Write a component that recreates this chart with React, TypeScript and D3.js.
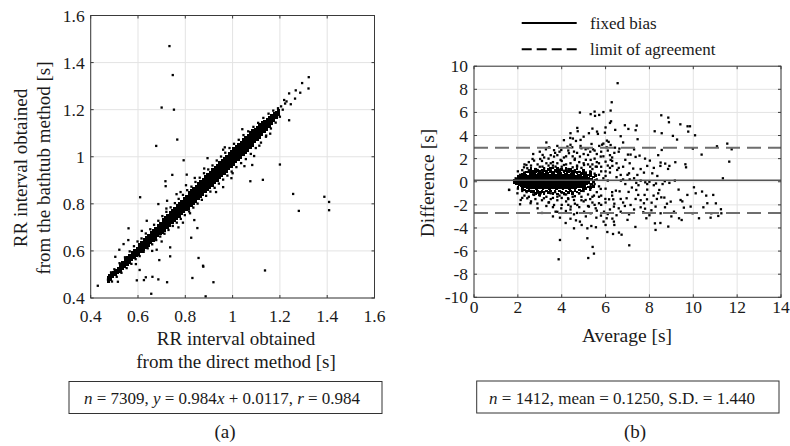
import React from 'react';
import * as d3 from 'd3';

// ---------- axis ticks ----------
const leftTicks = [0.4, 0.6, 0.8, 1.0, 1.2, 1.4, 1.6];
const leftTickLabels = ['0.4', '0.6', '0.8', '1', '1.2', '1.4', '1.6'];
const baXTicks = [0, 2, 4, 6, 8, 10, 12, 14];
const baYTicks = [-10, -8, -6, -4, -2, 0, 2, 4, 6, 8, 10];

// ---------- Bland-Altman statistics ----------
const baMean = 0.125;
const baLimits = [2.947, -2.697];

// ---------- (a) dense band: [x, y1, y2, ...] ----------
const bandCols = [
  [0.475, 0.471, 0.480, 0.489], [0.485, 0.479, 0.490, 0.499], [0.495, 0.489, 0.499, 0.509],
  [0.505, 0.497, 0.508, 0.518], [0.515, 0.506, 0.517, 0.528],
  [0.525, 0.512, 0.522, 0.533, 0.543], [0.535, 0.523, 0.533, 0.543, 0.553],
  [0.545, 0.532, 0.542, 0.553, 0.563], [0.555, 0.541, 0.552, 0.563, 0.573],
  [0.565, 0.551, 0.561, 0.572, 0.583], [0.575, 0.561, 0.571, 0.582, 0.593],
  [0.585, 0.571, 0.581, 0.592, 0.603], [0.595, 0.580, 0.591, 0.602, 0.613],
  [0.605, 0.585, 0.596, 0.607, 0.618, 0.628], [0.615, 0.595, 0.606, 0.617, 0.628, 0.638],
  [0.625, 0.605, 0.616, 0.627, 0.638, 0.648], [0.635, 0.615, 0.626, 0.637, 0.648, 0.658],
  [0.645, 0.624, 0.635, 0.646, 0.657, 0.667], [0.655, 0.634, 0.645, 0.656, 0.667, 0.677],
  [0.665, 0.644, 0.655, 0.666, 0.677, 0.687], [0.675, 0.654, 0.665, 0.676, 0.687, 0.697],
  [0.685, 0.664, 0.675, 0.686, 0.697, 0.707], [0.695, 0.674, 0.685, 0.696, 0.707, 0.717],
  [0.705, 0.678, 0.689, 0.700, 0.711, 0.722, 0.733], [0.715, 0.688, 0.699, 0.710, 0.721, 0.732, 0.743],
  [0.725, 0.698, 0.709, 0.720, 0.731, 0.742, 0.753], [0.735, 0.708, 0.719, 0.730, 0.741, 0.752, 0.763],
  [0.745, 0.718, 0.729, 0.740, 0.751, 0.762, 0.773], [0.755, 0.728, 0.739, 0.750, 0.761, 0.772, 0.783],
  [0.765, 0.738, 0.749, 0.760, 0.771, 0.782, 0.793], [0.775, 0.747, 0.758, 0.769, 0.780, 0.791, 0.802],
  [0.785, 0.757, 0.768, 0.779, 0.790, 0.801, 0.812], [0.795, 0.767, 0.778, 0.789, 0.800, 0.811, 0.822],
  [0.805, 0.777, 0.788, 0.799, 0.810, 0.821, 0.832],
  [0.815, 0.781, 0.792, 0.803, 0.814, 0.825, 0.836, 0.847], [0.825, 0.791, 0.802, 0.813, 0.824, 0.835, 0.846, 0.857],
  [0.835, 0.800, 0.811, 0.822, 0.833, 0.844, 0.855, 0.866], [0.845, 0.810, 0.821, 0.832, 0.843, 0.854, 0.865, 0.876],
  [0.855, 0.820, 0.831, 0.842, 0.853, 0.864, 0.875, 0.886], [0.865, 0.830, 0.841, 0.852, 0.863, 0.874, 0.885, 0.896],
  [0.875, 0.840, 0.851, 0.862, 0.873, 0.884, 0.895, 0.906], [0.885, 0.850, 0.861, 0.872, 0.883, 0.894, 0.905, 0.916],
  [0.895, 0.859, 0.870, 0.881, 0.892, 0.903, 0.914, 0.925], [0.905, 0.869, 0.880, 0.891, 0.902, 0.913, 0.924, 0.935],
  [0.915, 0.879, 0.890, 0.901, 0.912, 0.923, 0.934, 0.945], [0.925, 0.889, 0.900, 0.911, 0.922, 0.933, 0.944, 0.955],
  [0.935, 0.899, 0.910, 0.921, 0.932, 0.943, 0.954, 0.965], [0.945, 0.909, 0.920, 0.931, 0.942, 0.953, 0.964, 0.975],
  [0.955, 0.918, 0.929, 0.940, 0.951, 0.962, 0.973, 0.984], [0.965, 0.928, 0.939, 0.950, 0.961, 0.972, 0.983, 0.994],
  [0.975, 0.938, 0.949, 0.960, 0.971, 0.982, 0.993, 1.004], [0.985, 0.948, 0.959, 0.970, 0.981, 0.992, 1.003, 1.014],
  [0.995, 0.958, 0.969, 0.980, 0.991, 1.002, 1.013, 1.024], [1.005, 0.968, 0.979, 0.990, 1.001, 1.012, 1.023, 1.034],
  [1.015, 0.977, 0.988, 0.999, 1.010, 1.021, 1.032, 1.043], [1.025, 0.987, 0.998, 1.009, 1.020, 1.031, 1.042, 1.053],
  [1.035, 0.997, 1.008, 1.019, 1.030, 1.041, 1.052, 1.063], [1.045, 1.007, 1.018, 1.029, 1.040, 1.051, 1.062, 1.073],
  [1.055, 1.017, 1.028, 1.039, 1.050, 1.061, 1.072, 1.083], [1.065, 1.027, 1.038, 1.049, 1.060, 1.071, 1.082, 1.093],
  [1.075, 1.037, 1.048, 1.059, 1.070, 1.081, 1.092, 1.103], [1.085, 1.046, 1.057, 1.068, 1.079, 1.090, 1.101, 1.112],
  [1.095, 1.062, 1.073, 1.084, 1.095, 1.106, 1.117], [1.105, 1.072, 1.083, 1.094, 1.105, 1.116, 1.127],
  [1.115, 1.082, 1.093, 1.104, 1.115, 1.126, 1.137], [1.125, 1.092, 1.103, 1.114, 1.125, 1.136, 1.147],
  [1.135, 1.107, 1.118, 1.129, 1.140, 1.150], [1.145, 1.116, 1.127, 1.138, 1.149, 1.159],
  [1.155, 1.126, 1.137, 1.148, 1.159, 1.169],
  [1.165, 1.142, 1.153, 1.164, 1.174], [1.175, 1.152, 1.163, 1.174, 1.184],
  [1.185, 1.168, 1.178, 1.188], [1.195, 1.178, 1.188, 1.198],
];

// ---------- (a) points scattered round the band ----------
const nearBand = [
  [0.478, 0.497], [0.49, 0.47], [0.5, 0.522], [0.51, 0.49], [0.522, 0.548], [0.53, 0.507], [0.545, 0.573],
  [0.552, 0.527], [0.565, 0.598], [0.572, 0.545], [0.583, 0.62], [0.59, 0.565], [0.598, 0.64], [0.607, 0.578],
  [0.615, 0.653], [0.624, 0.596], [0.633, 0.674], [0.641, 0.611], [0.652, 0.692], [0.66, 0.628], [0.668, 0.711],
  [0.677, 0.646], [0.686, 0.728], [0.694, 0.661], [0.703, 0.748], [0.712, 0.673], [0.72, 0.766], [0.729, 0.689],
  [0.738, 0.785], [0.747, 0.706], [0.756, 0.803], [0.764, 0.72], [0.772, 0.821], [0.781, 0.736], [0.79, 0.838],
  [0.798, 0.752], [0.808, 0.858], [0.816, 0.768], [0.826, 0.873], [0.834, 0.784], [0.843, 0.893], [0.852, 0.801],
  [0.861, 0.911], [0.87, 0.817], [0.879, 0.93], [0.888, 0.834], [0.897, 0.946], [0.906, 0.852], [0.915, 0.963],
  [0.924, 0.868], [0.933, 0.984], [0.942, 0.886], [0.951, 1.001], [0.96, 0.903], [0.969, 1.017], [0.978, 0.92],
  [0.987, 1.037], [0.996, 0.937], [1.006, 1.055], [1.016, 0.956], [1.026, 1.072], [1.036, 0.973], [1.046, 1.092],
  [1.056, 0.99], [1.066, 1.108], [1.077, 1.012], [1.088, 1.127], [1.098, 1.037], [1.108, 1.144], [1.12, 1.06],
  [1.13, 1.165], [1.142, 1.09], [1.152, 1.183], [1.162, 1.12], [1.172, 1.196], [1.182, 1.145], [1.192, 1.206],
  [1.2, 1.17], [1.205, 1.214], [1.212, 1.2], [1.222, 1.226],
];

// ---------- (a) outliers ----------
const leftOutliers = [
  [0.733, 1.47], [0.747, 1.347], [0.70, 1.209], [0.752, 1.20], [0.766, 1.073], [0.677, 1.046], [0.793, 0.985],
  [0.894, 0.994], [1.20, 0.967], [1.322, 1.338], [1.294, 1.313], [1.321, 1.29], [1.267, 1.282], [1.286, 1.272],
  [1.239, 1.269], [1.264, 1.247], [1.246, 1.223], [1.239, 1.155], [1.218, 1.241], [1.228, 1.235], [1.041, 1.117],
  [1.091, 1.003], [1.141, 1.085], [1.113, 1.047], [1.159, 1.098], [1.083, 0.965], [0.967, 1.04], [1.075, 0.896],
  [1.128, 0.902], [1.256, 0.842], [1.28, 0.77], [1.388, 0.83], [1.408, 0.808], [1.408, 0.773], [1.137, 0.517],
  [0.919, 0.467], [0.875, 0.537], [0.856, 0.57], [0.83, 0.485], [0.886, 0.407], [0.723, 0.467], [0.656, 0.418],
  [0.595, 0.475], [0.43, 0.452], [0.609, 0.828], [0.56, 0.696], [0.745, 0.923], [0.806, 0.924], [0.716, 0.896],
  [0.717, 0.875], [0.803, 0.879], [0.96, 0.871], [0.995, 0.909], [0.838, 0.731], [0.851, 0.697], [0.825, 0.656],
  [0.736, 0.615], [0.736, 0.577], [0.69, 0.561], [0.633, 0.488], [0.661, 0.49], [0.591, 0.544], [0.504, 0.575],
  [0.521, 0.605], [0.539, 0.629], [0.486, 0.509], [0.515, 0.469], [0.473, 0.478], [0.616, 0.685], [0.686, 0.799],
  [0.723, 0.813], [0.763, 0.841], [0.637, 0.728], [0.679, 0.605], [0.607, 0.519], [0.686, 0.479], [0.625, 0.476],
  [0.559, 0.646], [0.876, 0.533], [0.771, 0.70], [0.79, 0.72], [0.82, 0.76], [0.7, 0.64], [0.66, 0.6],
  [0.93, 0.85], [1.0, 0.93], [1.05, 0.96], [0.88, 0.95], [0.84, 0.91], [0.78, 0.85], [0.72, 0.78], [0.96, 1.03],
];

// ---------- (b) dense core: [average, difference1, difference2, ...] ----------
const coreCols = [
  [1.85, -0.05, 0.15], [1.95, -0.15, 0.05, 0.25], [2.05, -0.25, -0.05, 0.15, 0.35],
  [2.15, -0.3, -0.1, 0.1, 0.3, 0.5], [2.25, -0.4, -0.2, 0.0, 0.2, 0.4],
  [2.35, -0.45, -0.25, -0.05, 0.15, 0.35, 0.55], [2.45, -0.5, -0.3, -0.1, 0.1, 0.3, 0.5],
  [2.55, -0.5, -0.3, -0.1, 0.1, 0.3, 0.5, 0.7], [2.65, -0.55, -0.35, -0.15, 0.05, 0.25, 0.45, 0.65],
  [2.75, -0.5, -0.3, -0.1, 0.1, 0.3, 0.5, 0.7], [2.85, -0.6, -0.4, -0.2, 0.0, 0.2, 0.4, 0.6],
  [2.95, -0.55, -0.35, -0.15, 0.05, 0.25, 0.45, 0.65], [3.05, -0.5, -0.3, -0.1, 0.1, 0.3, 0.5, 0.7],
  [3.15, -0.6, -0.4, -0.2, 0.0, 0.2, 0.4, 0.6, 0.8], [3.25, -0.55, -0.35, -0.15, 0.05, 0.25, 0.45, 0.65],
  [3.35, -0.5, -0.3, -0.1, 0.1, 0.3, 0.5, 0.7], [3.45, -0.6, -0.4, -0.2, 0.0, 0.2, 0.4, 0.6],
  [3.55, -0.55, -0.35, -0.15, 0.05, 0.25, 0.45, 0.65], [3.65, -0.5, -0.3, -0.1, 0.1, 0.3, 0.5, 0.7],
  [3.75, -0.6, -0.4, -0.2, 0.0, 0.2, 0.4, 0.6], [3.85, -0.55, -0.35, -0.15, 0.05, 0.25, 0.45, 0.65],
  [3.95, -0.5, -0.3, -0.1, 0.1, 0.3, 0.5, 0.7], [4.05, -0.6, -0.4, -0.2, 0.0, 0.2, 0.4, 0.6],
  [4.15, -0.55, -0.35, -0.15, 0.05, 0.25, 0.45, 0.65], [4.25, -0.5, -0.3, -0.1, 0.1, 0.3, 0.5, 0.7],
  [4.35, -0.6, -0.4, -0.2, 0.0, 0.2, 0.4, 0.6], [4.45, -0.55, -0.35, -0.15, 0.05, 0.25, 0.45, 0.65],
  [4.55, -0.5, -0.3, -0.1, 0.1, 0.3, 0.5, 0.7], [4.65, -0.5, -0.3, -0.1, 0.1, 0.3, 0.5],
  [4.75, -0.45, -0.25, -0.05, 0.15, 0.35, 0.55], [4.85, -0.4, -0.2, 0.0, 0.2, 0.4, 0.6],
  [4.95, -0.4, -0.2, 0.0, 0.2, 0.4], [5.05, -0.3, -0.1, 0.1, 0.3, 0.5], [5.15, -0.2, 0.0, 0.2, 0.4],
  [5.25, -0.1, 0.1, 0.3],
];

// ---------- (b) ragged fringe of the core ----------
const coreFringe = [
  [2.0, -0.45, 0.45], [2.2, -0.6, 0.65], [2.3, 0.75, -0.7], [2.4, -0.8, 0.85], [2.5, 0.9, -0.75],
  [2.6, -0.9, 0.95, 1.15], [2.7, -0.85, 0.9], [2.8, -1.0, 0.85, 1.05], [2.9, -0.8, 1.0], [3.0, -0.9, 0.9, -1.1],
  [3.1, 1.0, -0.85], [3.2, -1.0, 0.95, 1.2], [3.3, -0.8, 0.9], [3.4, -0.95, 1.05], [3.5, -0.8, 0.9, 1.2],
  [3.6, -1.0, 0.85], [3.7, -0.85, 1.0], [3.8, -1.05, 0.9, 1.15], [3.9, -0.8, 0.95], [4.0, -0.9, 1.05],
  [4.1, -1.0, 0.85], [4.2, -0.8, 0.95, 1.2], [4.3, -0.95, 0.9], [4.4, -0.8, 1.05], [4.5, -1.0, 0.9],
  [4.6, -0.75, 0.85], [4.7, -0.9, 0.8, 1.1], [4.8, -0.7, 0.85], [4.9, -0.8, 0.75], [5.0, -0.6, 0.7, 0.95],
  [5.1, -0.6, 0.65], [5.2, -0.45, 0.6], [5.3, -0.5, 0.55, 0.8], [5.35, -0.2, 0.2], [5.45, 0.0, 0.4, -0.4],
  [5.55, 0.15, 0.55],
];

// ---------- (b) scattered points [average, difference] ----------
const baScatter = [
  [6.55, 8.53], [6.28, 6.88], [6.23, 6.16], [4.83, 5.99], [5.32, 5.85], [5.50, 6.07], [5.52, 5.70], [5.90, 6.03],
  [5.71, 5.78], [6.20, 5.09], [6.25, 5.23], [8.54, 5.75], [8.86, 5.55], [8.89, 5.15], [9.41, 4.97], [9.74, 4.80],
  [9.85, 4.80], [9.77, 4.34], [10.08, 4.02], [9.07, 3.97], [9.26, 3.65], [8.24, 4.37], [8.56, 4.20], [6.88, 4.89],
  [7.04, 4.57], [7.42, 4.86], [7.37, 4.46], [7.46, 3.68], [6.69, 3.94], [6.44, 4.49], [5.24, 4.20], [4.71, 4.66],
  [4.73, 4.37], [5.61, 4.34], [5.65, 4.14], [5.97, 4.25], [6.06, 3.56], [6.14, 3.45], [4.39, 3.79], [4.51, 3.74],
  [4.65, 3.53], [4.86, 3.62], [5.36, 3.27], [5.43, 2.81], [5.84, 3.21], [5.71, 3.10], [6.23, 3.18], [6.05, 2.98],
  [6.43, 2.95], [6.63, 2.87], [8.56, 2.75], [9.98, 2.87], [10.38, 2.35], [11.08, 3.07], [11.55, 3.30], [11.75, 2.81],
  [11.64, 1.74], [11.35, 0.30], [7.02, 2.35], [7.14, 2.35], [7.37, 2.15], [7.55, 2.26], [8.02, 1.83], [8.50, 1.37],
  [8.51, 1.66], [8.72, 1.57], [8.91, 1.37], [8.85, 1.11], [9.18, 1.69], [9.64, 1.51], [9.67, 1.25], [7.90, 1.37],
  [7.75, 0.79], [7.26, 1.14], [3.28, 2.81], [3.65, 2.73], [3.42, 2.98], [3.13, 2.32], [3.02, 1.97], [2.67, 1.97],
  [2.74, 1.83], [2.39, 1.45], [2.28, 1.25], [2.43, 1.17], [3.98, 2.75], [4.26, 3.04], [4.48, 2.98], [4.56, 2.61],
  [4.33, 2.47], [4.86, 3.10], [5.09, 2.81], [5.20, 2.32], [4.83, 2.18], [4.59, 1.89], [3.95, 1.89], [3.65, 2.18],
  [3.50, 1.60], [4.10, 1.45], [5.32, 1.89], [5.78, 2.18], [6.00, 1.74], [6.23, 1.89], [6.31, 1.37], [6.53, 1.02],
  [5.55, 1.31], [5.02, 1.45], [3.72, 1.31], [3.12, 1.31], [2.89, 1.02], [6.69, 0.59], [7.07, 0.73], [7.45, 0.59],
  [8.13, 0.73], [8.36, 0.50], [1.90, 0.30],
  [3.92, -5.04], [3.86, -6.71], [5.17, -4.89], [5.41, -5.64], [5.47, -6.22], [5.21, -6.60], [7.08, -5.50],
  [6.08, -4.35], [6.34, -4.52], [6.61, -4.40], [6.73, -4.58], [8.28, -4.17], [8.86, -3.88], [8.25, -3.60],
  [8.50, -3.57], [7.36, -3.91], [4.18, -3.57], [4.65, -3.34], [4.83, -3.45], [4.91, -3.74], [5.35, -3.83],
  [5.56, -3.94], [5.58, -3.11], [5.79, -2.93], [6.05, -3.16], [6.31, -3.19], [6.38, -3.45], [6.40, -3.74],
  [5.91, -3.45], [7.60, -2.21], [7.72, -2.64], [8.09, -2.47], [7.86, -3.16], [8.71, -2.21], [9.35, -3.16],
  [9.47, -3.31], [9.57, -2.24], [9.97, -2.73], [10.26, -3.16], [10.46, -2.21], [10.79, -3.11], [10.91, -1.14],
  [11.03, -1.87], [11.14, -2.96], [11.26, -2.38], [11.28, -2.73], [9.33, -0.68], [9.42, -1.58], [10.03, -0.48],
  [10.11, -1.00], [10.40, -0.85], [10.59, -1.20], [9.16, 0.10], [8.91, -0.10], [8.45, -0.71], [8.19, -1.20],
  [8.34, -1.49], [8.54, -1.35], [8.68, -1.37], [7.81, -0.05], [7.90, -0.68], [7.40, -0.71], [7.49, -1.14],
  [7.37, -1.49], [7.78, -1.14], [7.89, -1.52], [7.75, -1.86], [8.10, -1.81], [7.80, -2.33], [6.47, -0.77],
  [6.35, -1.52], [6.64, -0.83], [6.69, -1.49], [6.96, -1.43], [7.05, -0.88], [6.88, -2.10], [6.16, -1.52],
  [5.99, -1.49], [5.78, -0.62], [5.32, -0.28], [4.19, -2.53], [3.92, -3.11], [3.98, -2.30], [3.65, -2.01],
  [3.42, -1.78], [3.19, -1.43], [2.89, -1.89], [2.58, -1.86], [2.43, -1.43], [2.10, -1.95], [2.13, -1.58],
  [1.60, -0.71], [1.98, -1.00], [4.71, -2.01], [5.02, -2.59], [4.56, -2.82], [5.32, -2.73], [5.55, -2.30],
  [5.93, -2.59], [6.69, -2.59], [7.07, -2.82], [7.14, -2.01], [6.00, -3.74], [5.17, -4.03], [4.56, -4.03],
  [4.41, -2.15], [3.72, -2.59], [4.29, -1.43], [4.56, -1.58], [5.09, -1.58], [5.47, -1.20], [4.79, -1.00],
  [4.13, -1.09], [3.80, -1.29], [3.04, -1.00], [2.74, -1.14], [5.24, -2.15], [5.70, -1.86], [6.38, -2.15],
  [8.51, -2.73], [8.28, -2.15], [8.97, -1.72], [9.12, -2.59], [9.73, -1.14], [9.88, -2.15], [10.64, -1.86],
  [10.82, -2.73],
  [2.1, 0.6], [2.3, 0.8], [2.5, 1.0], [2.6, 0.85], [2.8, 1.1], [2.9, 0.9], [3.0, 1.3], [3.1, 0.95], [3.2, 1.15],
  [3.3, 0.85], [3.4, 1.4], [3.5, 1.0], [3.6, 1.2], [3.7, 0.9], [3.8, 1.6], [3.9, 1.05], [4.0, 1.3], [4.1, 0.95],
  [4.2, 1.5], [4.3, 1.1], [4.4, 0.9], [4.5, 1.25], [4.6, 1.0], [4.7, 1.4], [4.8, 0.85], [4.9, 1.2], [5.0, 1.0],
  [5.1, 0.8], [5.2, 1.5], [5.3, 0.9], [5.4, 1.1], [5.5, 0.7], [5.6, 1.3], [5.7, 0.6], [5.8, 0.9], [6.0, 0.5],
  [6.2, 0.8], [5.9, 0.3], [5.6, 0.2], [5.5, -0.2], [5.7, -0.4], [6.1, 0.1],
  [1.6, -0.7], [2.0, -0.6], [2.2, -0.8], [2.4, -0.9], [2.6, -0.8], [2.7, -1.1], [2.9, -0.95], [3.0, -1.2],
  [3.2, -0.9], [3.3, -1.3], [3.5, -1.0], [3.6, -1.4], [3.7, -0.9], [3.9, -1.2], [4.0, -0.95], [4.2, -1.1],
  [4.3, -1.5], [4.5, -0.9], [4.6, -1.25], [4.8, -1.0], [4.9, -1.6], [5.0, -0.8], [5.2, -1.1], [5.3, -0.7],
  [5.4, -1.3], [5.6, -0.9], [5.8, -1.2], [6.0, -0.6], [6.3, -0.9],
  [5.5, 2.0], [5.7, 1.6], [5.9, 2.2], [6.1, 1.4], [6.3, 1.8], [6.4, 2.5], [6.2, 2.3], [5.8, 2.6], [6.0, 0.9],
  [6.5, 0.4], [6.6, 1.2], [6.8, 0.2], [7.0, 0.6], [6.9, -0.2], [7.2, -0.5], [7.3, 0.3], [7.6, 0.1], [7.5, -0.3],
  [8.0, 0.0], [8.2, -0.3], [6.7, 0.1], [7.1, 0.2], [7.4, -0.1], [7.9, -0.2], [8.3, -0.15], [8.6, -0.2], [8.7, 0.05],
  [3.4, 2.0], [3.6, 1.7], [3.8, 2.3], [4.0, 1.8], [4.2, 2.2], [4.4, 1.6], [4.6, 2.0], [4.8, 1.7], [5.0, 2.4],
  [5.1, 1.9], [5.3, 2.6], [5.4, 1.5], [5.6, 2.4], [4.3, 2.7], [4.7, 2.5], [3.7, 2.5], [3.3, 1.6], [3.1, 1.8],
  [2.9, 1.5], [2.6, 1.4], [2.5, 1.7], [2.2, 1.0], [2.0, 0.9],
  [3.4, -1.8], [3.6, -2.2], [3.8, -1.6], [4.0, -2.0], [4.2, -1.7], [4.4, -2.4], [4.6, -1.9], [4.8, -2.2],
  [5.0, -1.7], [5.2, -2.1], [5.4, -1.8], [5.6, -2.5], [5.8, -2.0], [6.0, -1.8], [6.2, -2.4], [6.4, -1.9],
  [6.6, -2.3], [3.1, -1.6], [2.8, -1.5], [2.5, -1.3], [2.3, -1.2],
  [2.3, 1.5], [2.7, 2.4], [3.0, 2.6], [3.2, 2.1], [3.5, 2.3], [3.6, 1.4], [3.9, 2.6], [4.1, 2.1], [4.4, 3.2],
  [4.5, 2.2], [4.7, 1.3], [4.9, 2.9], [5.0, 1.6], [5.2, 2.9], [5.3, 1.3], [5.5, 2.7], [5.6, 1.7], [5.8, 1.3],
  [5.9, 3.3], [6.1, 2.7], [6.2, 1.2], [6.3, 2.1], [6.5, 1.6], [6.6, 2.6], [6.8, 1.3], [6.9, 1.9], [7.1, 1.6],
  [7.3, 2.8], [7.6, 1.1], [7.8, 2.0], [8.2, 1.2], [8.4, 2.3], [3.3, 3.4], [3.8, 3.1], [4.1, 3.6], [5.0, 3.9],
  [5.4, 4.6], [4.4, 4.2], [6.0, 4.7], [6.8, 3.4],
  [2.2, -1.4], [2.6, -1.7], [2.9, -2.3], [3.1, -2.7], [3.3, -2.1], [3.5, -1.5], [3.8, -2.6], [4.0, -1.4],
  [4.3, -2.0], [4.5, -1.3], [4.7, -2.7], [4.9, -1.3], [5.1, -3.0], [5.3, -1.5], [5.5, -2.0], [5.7, -1.3],
  [6.1, -2.8], [6.3, -1.2], [6.5, -2.9], [6.8, -1.8], [7.0, -3.3], [7.3, -2.4], [7.6, -1.6], [8.0, -2.9],
  [8.4, -1.0], [8.8, -1.9], [9.0, -3.0], [9.5, -1.7], [4.4, -3.2], [3.6, -3.0],
];

const FONT = '"Liberation Serif", "Times New Roman", Times, serif';
const GRID = '#e3e3e3';
const AXIS = '#3a3a3a';
const INK = '#1a1a1a';

export default function App() {
  const lx = d3.scaleLinear().domain([0.4, 1.6]).range([90.7, 374.5]);
  const ly = d3.scaleLinear().domain([0.4, 1.6]).range([298, 15.5]);
  const rx = d3.scaleLinear().domain([0, 14]).range([474, 781]);
  const ry = d3.scaleLinear().domain([-10, 10]).range([297.3, 66.2]);

  const inLeft = (p: number[]) => p[0] >= 0.4 && p[0] <= 1.6 && p[1] >= 0.4 && p[1] <= 1.6;
  const leftDense: number[][] = bandCols.flatMap((c) => c.slice(1).map((y) => [c[0], y]));
  const leftSparse: number[][] = [...nearBand, ...leftOutliers].filter(inLeft);

  const rightDense: number[][] = [
    ...coreCols.flatMap((c) => c.slice(1).map((y) => [c[0], y])),
    ...coreFringe.flatMap((c) => c.slice(1).map((y) => [c[0], y])),
  ];
  const rightSparse: number[][] = baScatter;

  const [lx0, lx1] = lx.range();
  const [ly1, ly0] = ly.range();
  const [rx0, rx1] = rx.range();
  const [ry1, ry0] = ry.range();
  const tk = 3;
  const dsD = 2.6; // dot size in the dense clouds
  const dsS = 2.3; // dot size for isolated points
  const tickFs = 17.5;

  return (
    <svg
      width={790}
      height={446}
      style={{ position: 'absolute', left: 0, top: 0, background: '#fff' }}
      fontFamily={FONT}
    >
      <rect x={0} y={0} width={790} height={446} fill="#fff" />

      {/* ================= (a) ================= */}
      <g>
        {leftTicks.map((t, i) => (
          <g key={'lg' + i}>
            <line x1={lx(t)} x2={lx(t)} y1={ly0} y2={ly1} stroke={GRID} strokeWidth={1} />
            <line x1={lx0} x2={lx1} y1={ly(t)} y2={ly(t)} stroke={GRID} strokeWidth={1} />
          </g>
        ))}
        <g>
          {leftSparse.map((p, i) => (
            <rect key={'ls' + i} x={lx(p[0]) - dsS / 2} y={ly(p[1]) - dsS / 2} width={dsS} height={dsS} fill="#000" />
          ))}
        </g>
        <g shapeRendering="crispEdges">
          {leftDense.map((p, i) => (
            <rect key={'ld' + i} x={lx(p[0]) - dsD / 2} y={ly(p[1]) - dsD / 2} width={dsD} height={dsD} fill="#000" />
          ))}
        </g>
        <rect x={lx0} y={ly0} width={lx1 - lx0} height={ly1 - ly0} fill="none" stroke={AXIS} strokeWidth={1} />
        {leftTicks.map((t, i) => (
          <g key={'lt' + i} stroke={AXIS} strokeWidth={1}>
            <line x1={lx(t)} x2={lx(t)} y1={ly1} y2={ly1 - tk} />
            <line x1={lx(t)} x2={lx(t)} y1={ly0} y2={ly0 + tk} />
            <line x1={lx0} x2={lx0 + tk} y1={ly(t)} y2={ly(t)} />
            <line x1={lx1} x2={lx1 - tk} y1={ly(t)} y2={ly(t)} />
          </g>
        ))}
        {leftTicks.map((t, i) => (
          <text key={'lyl' + i} x={lx0 - 6} y={ly(t) + 6} textAnchor="end" fontSize={tickFs} fill={INK} fontFamily={FONT}>
            {leftTickLabels[i]}
          </text>
        ))}
        {leftTicks.map((t, i) => (
          <text key={'lxl' + i} x={lx(t)} y={321.5} textAnchor="middle" fontSize={tickFs} fill={INK} fontFamily={FONT}>
            {leftTickLabels[i]}
          </text>
        ))}
        <text x={236} y={345} textAnchor="middle" fontSize={19} fill={INK}>RR interval obtained</text>
        <text x={236} y={368} textAnchor="middle" fontSize={19} fill={INK}>from the direct method [s]</text>
        <g transform="translate(27,168) rotate(-90)">
          <text x={0} y={0} textAnchor="middle" fontSize={19} fill={INK}>RR interval obtained</text>
        </g>
        <g transform="translate(49.5,168) rotate(-90)">
          <text x={0} y={0} textAnchor="middle" fontSize={19} fill={INK}>from the bathtub method [s]</text>
        </g>
        <rect x={69} y={381.5} width={313} height={32} fill="none" stroke="#333" strokeWidth={1} />
        <text x={222} y={404} textAnchor="middle" fontSize={17} fill={INK}>
          <tspan fontStyle="italic">n</tspan>
          <tspan>{' = 7309, '}</tspan>
          <tspan fontStyle="italic">y</tspan>
          <tspan>{' = 0.984'}</tspan>
          <tspan fontStyle="italic">x</tspan>
          <tspan>{' + 0.0117, '}</tspan>
          <tspan fontStyle="italic">r</tspan>
          <tspan>{' = 0.984'}</tspan>
        </text>
        <text x={225} y={438} textAnchor="middle" fontSize={19} fill={INK}>(a)</text>
      </g>

      {/* ================= (b) ================= */}
      <g>
        {baXTicks.map((t, i) => (
          <line key={'rgx' + i} x1={rx(t)} x2={rx(t)} y1={ry0} y2={ry1} stroke={GRID} strokeWidth={1} />
        ))}
        {baYTicks.map((t, i) => (
          <line key={'rgy' + i} x1={rx0} x2={rx1} y1={ry(t)} y2={ry(t)} stroke={GRID} strokeWidth={1} />
        ))}
        <g>
          {rightSparse.map((p, i) => (
            <rect key={'rs' + i} x={rx(p[0]) - dsS / 2} y={ry(p[1]) - dsS / 2} width={dsS} height={dsS} fill="#000" />
          ))}
        </g>
        <g shapeRendering="crispEdges">
          {rightDense.map((p, i) => (
            <rect key={'rd' + i} x={rx(p[0]) - dsD / 2} y={ry(p[1]) - dsD / 2} width={dsD} height={dsD} fill="#000" />
          ))}
        </g>
        <line x1={rx0} x2={rx1} y1={ry(baMean)} y2={ry(baMean)} stroke="#555" strokeWidth={1.6} />
        {baLimits.map((v, i) => (
          <line key={'lim' + i} x1={rx0} x2={rx1} y1={ry(v)} y2={ry(v)} stroke="#6e6e6e" strokeWidth={2} strokeDasharray="14,7" />
        ))}
        <rect x={rx0} y={ry0} width={rx1 - rx0} height={ry1 - ry0} fill="none" stroke={AXIS} strokeWidth={1} />
        {baXTicks.map((t, i) => (
          <g key={'rtx' + i} stroke={AXIS} strokeWidth={1}>
            <line x1={rx(t)} x2={rx(t)} y1={ry1} y2={ry1 - tk} />
            <line x1={rx(t)} x2={rx(t)} y1={ry0} y2={ry0 + tk} />
          </g>
        ))}
        {baYTicks.map((t, i) => (
          <g key={'rty' + i} stroke={AXIS} strokeWidth={1}>
            <line x1={rx0} x2={rx0 + tk} y1={ry(t)} y2={ry(t)} />
            <line x1={rx1} x2={rx1 - tk} y1={ry(t)} y2={ry(t)} />
          </g>
        ))}
        {baYTicks.map((t, i) => (
          <text key={'ryl' + i} x={rx0 - 6} y={ry(t) + 6} textAnchor="end" fontSize={tickFs} fill={INK} fontFamily={FONT}>
            {String(t)}
          </text>
        ))}
        {baXTicks.map((t, i) => (
          <text key={'rxl' + i} x={rx(t)} y={312.5} textAnchor="middle" fontSize={tickFs} fill={INK} fontFamily={FONT}>
            {String(t)}
          </text>
        ))}
        <text x={627} y={342} textAnchor="middle" fontSize={19.5} fill={INK}>Average [s]</text>
        <g transform="translate(434,183) rotate(-90)">
          <text x={0} y={0} textAnchor="middle" fontSize={19.5} fill={INK}>Difference [s]</text>
        </g>

        {/* legend */}
        <line x1={521.7} x2={576.7} y1={23} y2={23} stroke="#000" strokeWidth={2} />
        <text x={590} y={28.5} fontSize={17} fill={INK}>fixed bias</text>
        <line x1={521.7} x2={576.7} y1={49.3} y2={49.3} stroke="#000" strokeWidth={2} strokeDasharray="10,5" />
        <text x={590} y={54.5} fontSize={17} fill={INK}>limit of agreement</text>

        <rect x={476.7} y={381} width={302.3} height={32} fill="none" stroke="#333" strokeWidth={1} />
        <text x={622} y={403.5} textAnchor="middle" fontSize={17} fill={INK}>
          <tspan fontStyle="italic">n</tspan>
          <tspan>{' = 1412, mean = 0.1250, S.D. = 1.440'}</tspan>
        </text>
        <text x={635} y={438} textAnchor="middle" fontSize={19} fill={INK}>(b)</text>
      </g>
    </svg>
  );
}
